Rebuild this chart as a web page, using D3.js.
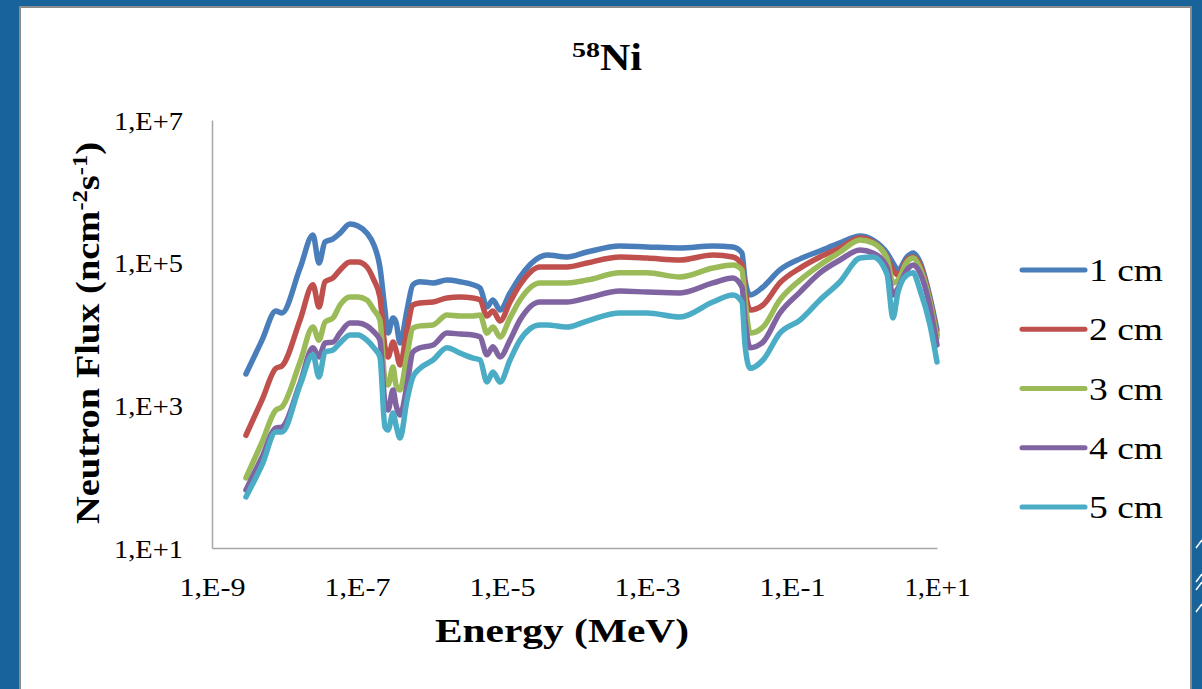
<!DOCTYPE html>
<html><head><meta charset="utf-8">
<script src="https://cdn.jsdelivr.net/npm/d3@7"></script>
<style>
html,body{margin:0;padding:0;background:#17639A;}
svg{display:block;}
text{font-family:"Liberation Serif","Times New Roman",serif;fill:#000;}
</style></head>
<body>
<svg id="chart" width="1202" height="689"></svg>
<script>
// ---- data ----
const energy = [2.94e-9,4.9e-9,7.6e-9,9.2e-9,1.64e-8,2.47e-8,2.99e-8,3.62e-8,4.67e-8,5.84e-8,8.0e-8,1.03e-7,1.37e-7,1.71e-7,2.07e-7,2.43e-7,2.68e-7,3.14e-7,3.45e-7,3.92e-7,4.9e-7,5.9e-7,7.4e-7,1.12e-6,1.74e-6,2.64e-6,3.98e-6,4.98e-6,6.2e-6,7.5e-6,9.4e-6,1.29e-5,1.77e-5,3.34e-5,4.18e-5,7.9e-5,1.49e-4,4.25e-4,1.0e-3,2.85e-3,8.1e-3,1.53e-2,2.04e-2,2.25e-2,2.64e-2,3.98e-2,6.8e-2,0.129,0.243,0.459,0.867,1.31,2.04,2.47,2.9,3.85,4.67,5.83,8.0,10];
const flux1cm = [2.75e3,8.2e3,2.1e4,1.97e4,8.4e4,2.44e5,9.9e4,1.95e5,2.15e5,2.6e5,3.48e5,3.27e5,2.6e5,1.77e5,8.7e4,2.17e4,1.03e4,1.68e4,1.47e4,7.5e3,2.17e4,4.9e4,5.4e4,5.2e4,5.7e4,5.4e4,4.9e4,4.4e4,2.39e4,3.0e4,2.17e4,3.76e4,6.3e4,1.2e5,1.28e5,1.2e5,1.41e5,1.71e5,1.66e5,1.61e5,1.71e5,1.66e5,1.37e5,5.7e4,3.52e4,4.56e4,7.9e4,1.13e5,1.46e5,1.89e5,2.37e5,2.08e5,1.37e5,9.9e4,7.9e4,1.2e5,1.37e5,1.02e5,3.3e4,1.14e4];
const flux2cm = [3.8e2,1.19e3,3.3e3,3.56e3,1.57e4,4.9e4,2.39e4,5.4e4,6.1e4,7.9e4,1.02e5,1.02e5,8.7e4,5.7e4,3.3e4,6.6e3,4.76e3,7.7e3,5.97e3,3.68e3,1.14e4,2.55e4,2.72e4,2.81e4,3.2e4,3.3e4,3.2e4,3.0e4,1.79e4,2.1e4,1.52e4,2.81e4,4.9e4,8.7e4,8.7e4,8.7e4,9.9e4,1.2e5,1.16e5,1.09e5,1.28e5,1.2e5,9.3e4,4.14e4,2.17e4,2.55e4,5.2e4,8.4e4,1.2e5,1.61e5,2.22e5,1.95e5,1.2e5,7.9e4,6.7e4,1.09e5,1.2e5,9.3e4,3.0e4,9.7e3];
const flux3cm = [96,306,861,948,4.05e3,1.25e4,8.2e3,1.47e4,1.68e4,2.55e4,3.3e4,3.3e4,3.0e4,2.17e4,1.57e4,2.27e3,1.93e3,3.45e3,1.93e3,1.64e3,5.1e3,1.21e4,1.3e4,1.34e4,1.85e4,1.79e4,1.79e4,1.85e4,1.03e4,1.25e4,9.1e3,1.68e4,3.0e4,5.2e4,5.2e4,5.2e4,5.7e4,7.2e4,7.2e4,6.3e4,8.4e4,9.3e4,7.9e4,3.0e4,1.03e4,1.25e4,3.0e4,5.7e4,9.3e4,1.41e5,2.08e5,1.89e5,1.16e5,5.2e4,5.7e4,1.02e5,1.16e5,8.4e4,2.81e4,8.8e3];
const flux4cm = [65,189,481,497,2.06e3,6.4e3,4.76e3,7.5e3,7.7e3,1.03e4,1.43e4,1.43e4,1.3e4,1.07e4,8.2e3,1.08e3,861,1.64e3,1.01e3,732,1.93e3,5.6e3,6.4e3,7.0e3,1.03e4,1.0e4,9.7e3,9.1e3,5.1e3,6.6e3,4.76e3,8.2e3,1.57e4,2.81e4,2.81e4,2.81e4,3.2e4,4.0e4,3.87e4,3.76e4,5.2e4,6.1e4,4.56e4,1.57e4,6.4e3,7.7e3,1.97e4,3.87e4,7.2e4,1.09e5,1.51e5,1.37e5,8.7e4,3.52e4,4.4e4,7.9e4,9.3e4,7.2e4,2.39e4,7.0e3];
const flux5cm = [52,146,423,423,1.93e3,5.1e3,2.5e3,5.6e3,5.97e3,7.5e3,9.7e3,9.7e3,8.2e3,6.4e3,4.76e3,497,451,781,530,348,1.19e3,2.5e3,3.3e3,4.32e3,6.4e3,5.4e3,4.6e3,4.32e3,2.12e3,2.93e3,2.12e3,4.32e3,8.2e3,1.34e4,1.34e4,1.25e4,1.52e4,1.97e4,1.97e4,1.73e4,2.81e4,3.52e4,2.81e4,7.0e3,3.3e3,4.32e3,1.03e4,1.57e4,3.0e4,5.4e4,1.16e5,1.2e5,6.9e4,1.68e4,3.88e4,6.7e4,7.2e4,4.14e4,1.34e4,4.05e3];
const seriesNames = ["1 cm","2 cm","3 cm","4 cm","5 cm"];
const seriesColors = ["#4A7EBB","#C0504D","#9BBB59","#8064A2","#4BACC6"];
const xTickValues = [1e-9,1e-7,1e-5,1e-3,1e-1,1e1];
const xTickLabels = ["1,E-9","1,E-7","1,E-5","1,E-3","1,E-1","1,E+1"];
const yTickValues = [1e1,1e3,1e5,1e7];
const yTickLabels = ["1,E+1","1,E+3","1,E+5","1,E+7"];

const series = [flux1cm,flux2cm,flux3cm,flux4cm,flux5cm];

const svg = d3.select("#chart");
// frame
svg.append("rect").attr("x",0).attr("y",0).attr("width",1202).attr("height",689).attr("fill","#17639A");
svg.append("rect").attr("x",20).attr("y",7).attr("width",1171).attr("height",690)
  .attr("fill","#fff").attr("stroke","#8c8c8c").attr("stroke-width",2);
// decorative lines bottom right
[[1196,548,1202,540],[1196,582,1202,574],[1196,590,1202,582],[1196,612,1202,604]].forEach(l=>{
  svg.append("line").attr("x1",l[0]).attr("y1",l[1]).attr("x2",l[2]).attr("y2",l[3]).attr("stroke","#fff").attr("stroke-width",1.5);
});

const x = d3.scaleLog().domain([1e-9,10]).range([212,937]);
const y = d3.scaleLog().domain([10,1e7]).range([548,120]);

// axes
const xAxis = d3.axisBottom(x).tickValues(xTickValues).tickSize(0).tickFormat((d,i)=>xTickLabels[i]);
const gx = svg.append("g").attr("transform","translate(0,548)").call(xAxis);
gx.select(".domain").attr("stroke","#A6A6A6").attr("stroke-width",1.5);
gx.selectAll("text").attr("font-size",26).attr("dy",0).attr("y",48)
  .attr("font-family","Liberation Serif").attr("textLength",66).attr("lengthAdjust","spacingAndGlyphs");

const yAxis = d3.axisLeft(y).tickValues(yTickValues).tickSize(0).tickFormat((d,i)=>yTickLabels[i]);
const gy = svg.append("g").attr("transform","translate(212,0)").call(yAxis);
gy.select(".domain").attr("stroke","#A6A6A6").attr("stroke-width",1.5);
gy.selectAll("text").attr("font-size",26).attr("x",-29).attr("dy","0.35em")
  .attr("font-family","Liberation Serif").attr("textLength",69).attr("lengthAdjust","spacingAndGlyphs");

// lines
const line = d3.line().x((d,i)=>x(energy[i])).y(d=>y(d)).curve(d3.curveMonotoneX);
series.forEach((s,k)=>{
  svg.append("path").datum(s).attr("d",line).attr("fill","none")
    .attr("stroke",seriesColors[k]).attr("stroke-width",5.5)
    .attr("stroke-linejoin","round").attr("stroke-linecap","round");
});

// title
const t = svg.append("text").attr("x",572).attr("y",70).attr("font-weight","bold");
t.append("tspan").attr("font-size",21).attr("dy",-13).attr("textLength",28).attr("lengthAdjust","spacingAndGlyphs").text("58");
t.append("tspan").attr("font-size",37).attr("dy",13).attr("textLength",42).attr("lengthAdjust","spacingAndGlyphs").text("Ni");

// x title
svg.append("text").attr("x",562).attr("y",642).attr("text-anchor","middle")
  .attr("font-weight","bold").attr("font-size",34).attr("textLength",254).attr("lengthAdjust","spacingAndGlyphs").text("Energy (MeV)");

// y title
const yt = svg.append("text").attr("transform","translate(99,333) rotate(-90)").attr("text-anchor","middle")
  .attr("font-weight","bold").attr("font-size",33).attr("textLength",382).attr("lengthAdjust","spacingAndGlyphs");
yt.append("tspan").text("Neutron Flux (ncm");
yt.append("tspan").attr("font-size",21).attr("dy",-12).text("-2");
yt.append("tspan").attr("dy",12).text("s");
yt.append("tspan").attr("font-size",21).attr("dy",-12).text("-1");
yt.append("tspan").attr("dy",12).text(")");

// legend
const lg = svg.append("g");
seriesNames.forEach((n,k)=>{
  const yy = 270 + k*59.25;
  lg.append("line").attr("x1",1022).attr("x2",1085).attr("y1",yy).attr("y2",yy)
    .attr("stroke",seriesColors[k]).attr("stroke-width",5).attr("stroke-linecap","round");
  lg.append("text").attr("x",1089).attr("y",yy+11).attr("font-size",32)
    .attr("textLength",74).attr("lengthAdjust","spacingAndGlyphs").text(n);
});
</script>
</body></html>
